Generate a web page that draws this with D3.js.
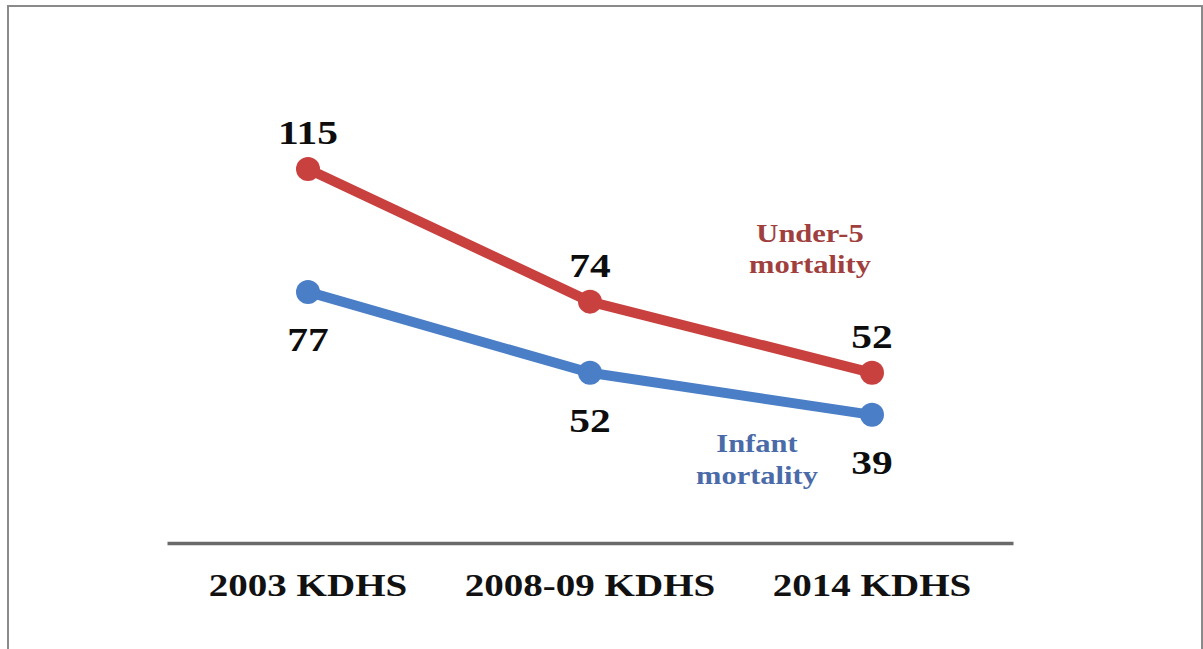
<!DOCTYPE html>
<html>
<head>
<meta charset="utf-8">
<script src="https://cdn.jsdelivr.net/npm/d3@7"></script>
<style>
  html, body { margin: 0; padding: 0; background: #fff; }
  svg { display: block; }
</style>
</head>
<body>
<svg id="chart" width="1203" height="649"></svg>
<script>
// Survey rounds and mortality rates (deaths per 1,000 live births)
const surveys = ["2003 KDHS", "2008-09 KDHS", "2014 KDHS"];
const under5 = [115, 74, 52];
const infant = [77, 52, 39];
const seriesNames = [["Under-5", "mortality"], ["Infant", "mortality"]];

const W = 1203, H = 649;
const svg = d3.select("#chart");
const FONT = "'Liberation Serif', 'Times New Roman', serif";
const STRETCH = 1.22; // wide bold serif face

// frame: top, left and right edges
svg.append("path")
  .attr("d", `M8,${H + 2} L8,6 L1202,6 L1202,${H + 2}`)
  .attr("fill", "none")
  .attr("stroke", "#8a8a8a")
  .attr("stroke-width", 2);

const x = d3.scalePoint().domain(surveys).range([167, 1013]).padding(0.5);
const y = d3.scaleLinear().domain([0, 115]).range([541, 169]);

// horizontal base line with category labels
const axis = svg.append("g").attr("transform", "translate(0,543)")
  .call(d3.axisBottom(x).tickSize(0).tickPadding(0));
axis.select(".domain").attr("stroke", "#6a6a6a").attr("stroke-width", 3.5);
axis.selectAll(".tick text").remove();

function stretchedText(parent, tx, ty, str, size, color) {
  parent.append("g")
    .attr("transform", `translate(${tx},${ty}) scale(${STRETCH},1)`)
    .append("text")
    .attr("text-anchor", "middle")
    .attr("font-family", FONT)
    .attr("font-weight", "bold")
    .attr("font-size", size)
    .attr("fill", color)
    .text(str);
}

surveys.forEach(s => stretchedText(svg, x(s), 596, s, 32, "#111"));

const series = [
  { values: under5, color: "#c8413f", labelPos: "above", legendColor: "#a0403e",
    legend: seriesNames[0], legendX: 810, legendY: [242, 273] },
  { values: infant, color: "#4a7ec6", labelPos: "below", legendColor: "#4a6aa8",
    legend: seriesNames[1], legendX: 757, legendY: [452, 484] }
];

const line = d3.line().x((d, i) => x(surveys[i])).y(d => y(d));

series.forEach(sr => {
  const g = svg.append("g");
  g.append("path")
    .datum(sr.values)
    .attr("d", line)
    .attr("fill", "none")
    .attr("stroke", sr.color)
    .attr("stroke-width", 10)
    .attr("stroke-linejoin", "round");
  g.selectAll("circle")
    .data(sr.values)
    .join("circle")
    .attr("cx", (d, i) => x(surveys[i]))
    .attr("cy", d => y(d))
    .attr("r", 12)
    .attr("fill", sr.color);

  // value labels
  sr.values.forEach((v, i) => {
    const ly = sr.labelPos === "above" ? y(v) - 25 : y(v) + 59;
    stretchedText(svg, x(surveys[i]), ly, String(v), 34, "#0d0d0d");
  });

  // series name
  sr.legend.forEach((t, k) => stretchedText(svg, sr.legendX, sr.legendY[k], t, 25, sr.legendColor));
});
</script>
</body>
</html>
